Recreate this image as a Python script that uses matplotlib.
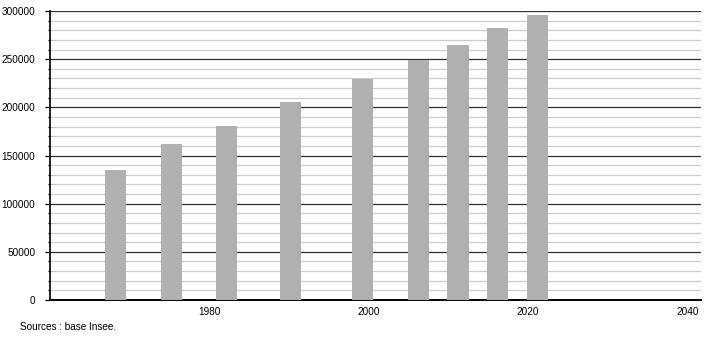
import numpy as np
import matplotlib.pyplot as plt
from matplotlib.ticker import MultipleLocator

# recensements Insee
years = [1968, 1975, 1982, 1990, 1999, 2006, 2011, 2016, 2021]
population = [135000, 162000, 180500, 205500, 229500, 249500, 265000, 282000, 295500]
xtick_years = [1980, 2000, 2020, 2040]

plt.rcParams['font.family'] = ['Liberation Sans', 'DejaVu Sans']

fig = plt.figure(figsize=(7.1, 3.4), dpi=100)
ax = fig.add_axes([50/710, 40/340, 651/710, 289/340])

ax.bar(np.array(years) + 0.2, population, width=2.65, color='#b0b0b0', zorder=3)

ax.set_xlim(1960, 2041.7)
ax.set_ylim(0, 300000)
ax.yaxis.set_major_locator(MultipleLocator(50000))
ax.yaxis.set_minor_locator(MultipleLocator(10000))
ax.set_xticks(xtick_years)
ax.set_yticklabels([str(int(v)) for v in ax.get_yticks()])

ax.grid(axis='y', which='major', color='#333333', linewidth=0.9, zorder=1)
ax.grid(axis='y', which='minor', color='#cccccc', linewidth=0.9, zorder=1)

for s in ['top', 'right']:
    ax.spines[s].set_visible(False)
ax.spines['left'].set_linewidth(1.2)
ax.spines['bottom'].set_linewidth(1.4)

ax.tick_params(axis='y', which='major', length=3.6, width=0.9, labelsize=7.2, pad=7)
ax.tick_params(axis='y', which='minor', length=1.5, width=0.9)
ax.tick_params(axis='x', length=0, labelsize=7.2, pad=5)

fig.text(20/710, 1 - 327/340, 'Sources : base Insee.', fontsize=7.2, va='center')

fig.savefig('out.png', dpi=100)
